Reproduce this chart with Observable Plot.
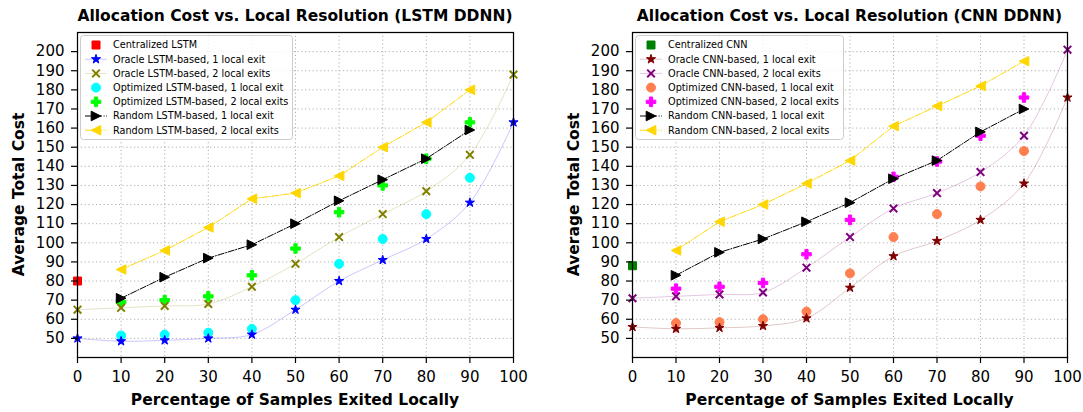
<!DOCTYPE html>
<html><head><meta charset="utf-8">
<script src="https://cdn.jsdelivr.net/npm/d3@7"></script>
<script src="https://cdn.jsdelivr.net/npm/@observablehq/plot@0.6"></script>
<style>
body{margin:0;background:#fff;}
#wrap{position:relative;width:1083px;height:412px;overflow:hidden;font-family:"DejaVu Sans",sans-serif;background:#fff;}
#wrap svg{position:absolute;top:0;}
</style></head><body><div id="wrap"></div>
<script>
// ---------- data ----------
const xAll = [0, 10, 20, 30, 40, 50, 60, 70, 80, 90, 100];
const xMid = [10, 20, 30, 40, 50, 60, 70, 80, 90];
const xTicks = [0, 10, 20, 30, 40, 50, 60, 70, 80, 90, 100];
const yTicks = [50, 60, 70, 80, 90, 100, 110, 120, 130, 140, 150, 160, 170, 180, 190, 200];

const centralLstm = 80;
const oracleLstm1 = [50, 48.5, 49, 50, 52, 65, 80, 91, 102, 121, 163];
const oracleLstm2 = [65, 66, 67, 68, 77, 89, 103, 115, 127, 146, 188];
const optLstm1 = [51.5, 52, 53, 55, 70, 89, 102, 115, 134];
const optLstm2 = [69, 70, 72, 83, 97, 116, 130, 144, 163];
const randLstm1 = [71, 82, 92, 99, 110, 122, 133, 144, 159];
const randLstm2 = [86, 96, 108, 123, 126, 135, 150, 163, 180];

const centralCnn = 88;
const oracleCnn1 = [56, 55, 55.5, 56.5, 60.5, 76.5, 93, 101, 112, 131, 176];
const oracleCnn2 = [71, 72, 73, 74, 87, 103, 118, 126, 137, 156, 201];
const optCnn1 = [58, 58.5, 60, 64, 84, 103, 115, 129.5, 148];
const optCnn2 = [76, 77, 79, 94, 112, 134.5, 142.5, 156, 176];
const randCnn1 = [83, 95, 102, 111, 121, 133.5, 143, 158, 170];
const randCnn2 = [96, 111, 120, 131, 143, 161, 171.5, 182, 195];

const lstmLabels = ["Centralized LSTM", "Oracle LSTM-based, 1 local exit", "Oracle LSTM-based, 2 local exits",
  "Optimized LSTM-based, 1 local exit", "Optimized LSTM-based, 2 local exits",
  "Random LSTM-based, 1 local exit", "Random LSTM-based, 2 local exits"];
const cnnLabels = ["Centralized CNN", "Oracle CNN-based, 1 local exit", "Oracle CNN-based, 2 local exits",
  "Optimized CNN-based, 1 local exit", "Optimized CNN-based, 2 local exits",
  "Random CNN-based, 1 local exit", "Random CNN-based, 2 local exits"];

// ---------- symbols ----------
const rad = (size) => Math.sqrt(size / Math.PI);
const symSquare = {draw(c, s) { const r = rad(s); c.rect(-r, -r, 2 * r, 2 * r); }};
const symCircle = {draw(c, s) { const r = rad(s); c.moveTo(r, 0); c.arc(0, 0, r, 0, 2 * Math.PI); c.closePath(); }};
const symStar = {draw(c, s) {
  const R = rad(s), ri = R * 0.382;
  for (let k = 0; k < 10; k++) {
    const a = -Math.PI / 2 + k * Math.PI / 5, rr = k % 2 ? ri : R;
    const x = rr * Math.cos(a), y = rr * Math.sin(a);
    k ? c.lineTo(x, y) : c.moveTo(x, y);
  }
  c.closePath();
}};
const symX = {draw(c, s) { const r = rad(s); c.moveTo(-r, -r); c.lineTo(r, r); c.moveTo(-r, r); c.lineTo(r, -r); }};
const symPlus = {draw(c, s) {
  const r = rad(s), t = r / 3;
  const pts = [[-t,-r],[t,-r],[t,-t],[r,-t],[r,t],[t,t],[t,r],[-t,r],[-t,t],[-r,t],[-r,-t],[-t,-t]];
  pts.forEach(([x, y], i) => i ? c.lineTo(x, y) : c.moveTo(x, y)); c.closePath();
}};
const symTriR = {draw(c, s) { const r = rad(s); c.moveTo(r, 0); c.lineTo(-r, -r); c.lineTo(-r, r); c.closePath(); }};
const symTriL = {draw(c, s) { const r = rad(s); c.moveTo(-r, 0); c.lineTo(r, -r); c.lineTo(r, r); c.closePath(); }};

const dashDot = "6.4,1.6,1,1.6";
const gridStyle = {stroke: "#b0b0b0", strokeOpacity: 1, strokeWidth: 1, strokeDasharray: "1.2,2.6"};

function series(xs, ys) { return xs.map((x, i) => ({x, y: ys[i]})); }

function makeChart(cfg) {
  const {central, o1, o2, p1, p2, r1, r2, c} = cfg;
  const filled = (data, sym, color, r) => Plot.dot(data, {x: "x", y: "y", symbol: sym, r, fill: color, stroke: color, strokeWidth: 1});
  return Plot.plot({
    width: cfg.width, height: 412,
    marginLeft: cfg.marginLeft, marginRight: cfg.marginRight, marginTop: 32, marginBottom: 55,
    x: {domain: [0, 100]}, y: {domain: [40, 210]},
    style: {fontFamily: "DejaVu Sans", fontSize: "15px", background: "none", overflow: "visible", color: "black"},
    marks: [
      Plot.gridX(xTicks, gridStyle),
      Plot.gridY(yTicks, gridStyle),
      filled(series(xMid, p1), symCircle, c.p1, 4.5),
      filled(series(xMid, p2), symPlus, c.p2, 4.8),
      Plot.line(series(xAll, o1), {x: "x", y: "y", curve: "catmull-rom", stroke: c.o1, strokeOpacity: 0.22, strokeWidth: 1}),
      filled(series(xAll, o1), symStar, c.o1, 4.8),
      Plot.line(series(xAll, o2), {x: "x", y: "y", curve: "catmull-rom", stroke: c.o2, strokeOpacity: 0.22, strokeWidth: 1}),
      Plot.dot(series(xAll, o2), {x: "x", y: "y", symbol: symX, r: 3.8, fill: "none", stroke: c.o2, strokeWidth: 2}),
      Plot.line(series(xMid, r1), {x: "x", y: "y", stroke: "black", strokeWidth: 1, strokeDasharray: dashDot}),
      filled(series(xMid, r1), symTriR, "black", 4.8),
      Plot.line(series(xMid, r2), {x: "x", y: "y", stroke: "#FFD700", strokeWidth: 1, strokeDasharray: dashDot}),
      filled(series(xMid, r2), symTriL, "#FFD700", 4.8),
      filled([{x: 0, y: central}], symSquare, c.central, 4),
      Plot.frame({stroke: "black", strokeWidth: 1.25}),
      Plot.axisX(xTicks, {tickSize: 6, tickPadding: 8, fontSize: 15, label: null, strokeWidth: 1.2}),
      Plot.axisY(yTicks, {tickSize: 6, tickPadding: 7, fontSize: 15, label: null, strokeWidth: 1.2})
    ]
  });
}

const wrap = document.getElementById("wrap");

const left = makeChart({
  width: 541, marginLeft: 77, marginRight: 28,
  central: centralLstm, o1: oracleLstm1, o2: oracleLstm2, p1: optLstm1, p2: optLstm2, r1: randLstm1, r2: randLstm2,
  c: {central: "#FF0000", o1: "#0000FF", o2: "#808000", p1: "#00FFFF", p2: "#00FF00"}
});
left.style.left = "0px";
wrap.appendChild(left);

const right = makeChart({
  width: 542, marginLeft: 91, marginRight: 16,
  central: centralCnn, o1: oracleCnn1, o2: oracleCnn2, p1: optCnn1, p2: optCnn2, r1: randCnn1, r2: randCnn2,
  c: {central: "#008000", o1: "#800000", o2: "#800080", p1: "#FF7F50", p2: "#FF00FF"}
});
right.style.left = "541px";
wrap.appendChild(right);

// ---------- overlay: titles, axis labels, legends ----------
const ov = d3.select(wrap).append("svg").attr("width", 1083).attr("height", 412)
  .style("left", "0px").style("font-family", "DejaVu Sans");

const panels = [
  {cx: 295, ylab: 23.5, title: "Allocation Cost vs. Local Resolution (LSTM DDNN)", box: 80.5, bw: 212, labels: lstmLabels,
   c: {central: "#FF0000", o1: "#0000FF", o2: "#808000", p1: "#00FFFF", p2: "#00FF00"}},
  {cx: 849.5, ylab: 578.5, title: "Allocation Cost vs. Local Resolution (CNN DDNN)", box: 635.5, bw: 208, labels: cnnLabels,
   c: {central: "#008000", o1: "#800000", o2: "#800080", p1: "#FF7F50", p2: "#FF00FF"}}
];

function symPath(sym, r) { const p = d3.path(); sym.draw(p, r * r * Math.PI); return p.toString(); }

panels.forEach(P => {
  ov.append("text").attr("x", P.cx).attr("y", 21).attr("text-anchor", "middle")
    .attr("font-weight", "bold").attr("font-size", 15.5).text(P.title);
  ov.append("text").attr("x", P.cx).attr("y", 405).attr("text-anchor", "middle")
    .attr("font-weight", "bold").attr("font-size", 15.5).text("Percentage of Samples Exited Locally");
  ov.append("text").attr("transform", `translate(${P.ylab},194.5) rotate(-90)`).attr("text-anchor", "middle")
    .attr("font-weight", "bold").attr("font-size", 15.5).text("Average Total Cost");

  const g = ov.append("g");
  g.append("rect").attr("x", P.box).attr("y", 35.5).attr("width", P.bw).attr("height", 104).attr("rx", 3)
    .attr("fill", "white").attr("fill-opacity", 0.8).attr("stroke", "#cccccc").attr("stroke-width", 1);
  const items = [
    {sym: symSquare, r: 4, color: P.c.central},
    {sym: symStar, r: 4.8, color: P.c.o1, line: {color: P.c.o1, op: 0.22}},
    {sym: symX, r: 3.8, color: P.c.o2, stroke: true, line: {color: P.c.o2, op: 0.22}},
    {sym: symCircle, r: 4.5, color: P.c.p1},
    {sym: symPlus, r: 4.8, color: P.c.p2},
    {sym: symTriR, r: 4.8, color: "black", line: {color: "black", op: 1, dash: dashDot}},
    {sym: symTriL, r: 4.8, color: "#FFD700", line: {color: "#FFD700", op: 1, dash: dashDot}}
  ];
  const x0 = P.box - 0.5;
  items.forEach((it, i) => {
    const y = 45 + i * 14.2;
    if (it.line) {
      g.append("line").attr("x1", x0 + 5).attr("x2", x0 + 27).attr("y1", y).attr("y2", y)
        .attr("stroke", it.line.color).attr("stroke-opacity", it.line.op).attr("stroke-width", 1)
        .attr("stroke-dasharray", it.line.dash || null);
    }
    g.append("path").attr("transform", `translate(${x0 + 16},${y})`).attr("d", symPath(it.sym, it.r))
      .attr("fill", it.stroke ? "none" : it.color).attr("stroke", it.color).attr("stroke-width", it.stroke ? 2 : 1);
    g.append("text").attr("x", x0 + 33).attr("y", y).attr("dy", "0.36em").attr("font-size", 9.7).text(P.labels[i]);
  });
});
</script>
</body></html>
